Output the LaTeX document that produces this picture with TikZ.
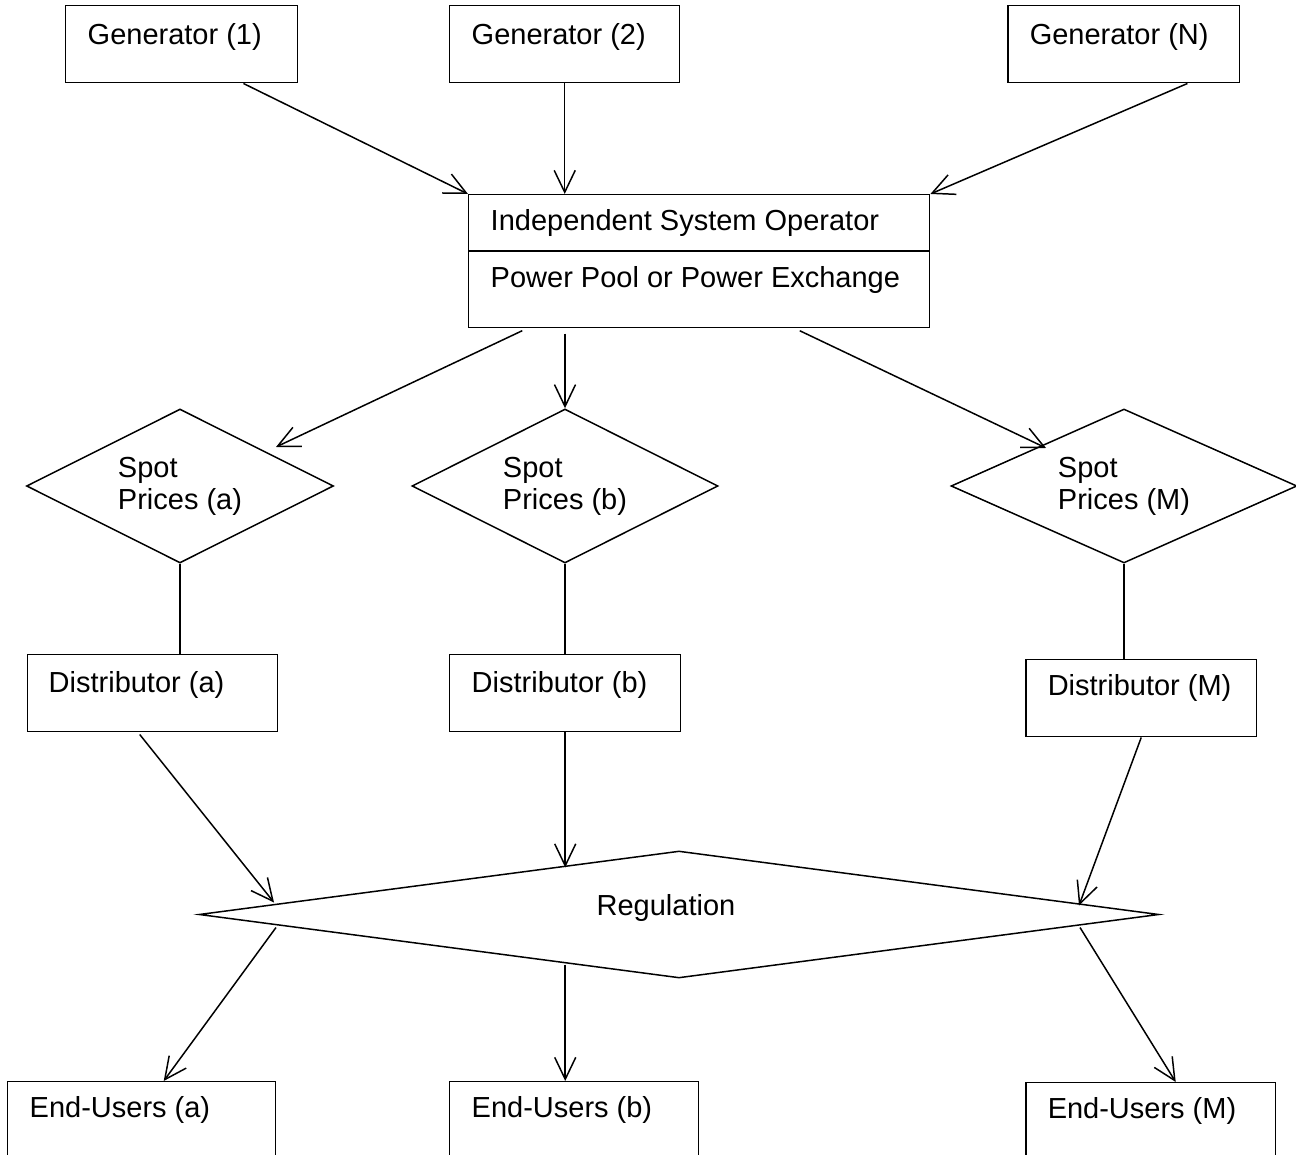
\documentclass[tikz,border=0pt]{standalone}
\usepackage{fontspec}
\setmainfont{Liberation Sans}
\usetikzlibrary{shapes.geometric, arrows.meta}

\tikzset{
  box/.style={draw, rectangle, anchor=north west, inner sep=0pt},
  boxtext/.style={anchor=base west, inner sep=0pt},
  spot/.style={draw, diamond, aspect=2, inner sep=0pt, minimum height=3.08cm, align=left},
  link/.style={-{Straight Barb[length=12.5pt, width=12pt]}}
}

\begin{document}
\begin{tikzpicture}[x=0.02cm, y=-0.02cm, line width=0.85pt, font=\fontsize{16.5}{18.1}\selectfont]

    \useasboundingbox (0,0) rectangle (1296,1155);
    \clip (0,0) rectangle (1296,1155);

    % Draw the generators
    \node[box, minimum width=4.64cm, minimum height=1.54cm] (gen1) at (65,5) {};
    \node[box, minimum width=4.60cm, minimum height=1.54cm] (gen2) at (449,5) {};
    \node[box, minimum width=4.64cm, minimum height=1.54cm] (genN) at (1007,5) {};
    \node[boxtext] (gen1txt) at ([shift={(22,40)}]gen1.north west) {Generator (1)};
    \node[boxtext] (gen2txt) at ([shift={(22,40)}]gen2.north west) {Generator (2)};
    \node[boxtext] (genNtxt) at ([shift={(22,40)}]genN.north west) {Generator (N)};

    % Draw the operator box with its divider
    \node[box, minimum width=9.22cm, minimum height=2.66cm] (iso) at (468,194) {};
    \draw ([shift={(0,57)}]iso.north west) -- ([shift={(0,57)}]iso.north east);
    \node[boxtext] (isotop) at ([shift={(22,37)}]iso.north west) {Independent System Operator};
    \node[boxtext] (isobot) at ([shift={(22,94)}]iso.north west) {Power Pool or Power Exchange};

    % Draw the spot price diamonds
    \node[spot, minimum width=6.14cm] (spa) at (180,486) {Spot\\Prices (a)};
    \node[spot, minimum width=6.12cm] (spb) at (565,486) {Spot\\Prices (b)};
    \node[spot, minimum width=6.92cm] (spM) at (1124,486) {Spot\\Prices (M)};

    % Draw the distributors
    \node[box, minimum width=5.00cm, minimum height=1.54cm] (dista) at (27,654) {};
    \node[box, minimum width=4.62cm, minimum height=1.54cm] (distb) at (449,654) {};
    \node[box, minimum width=4.62cm, minimum height=1.54cm] (distM) at (1025,659) {};
    \node[boxtext] (distatxt) at ([shift={(21,38)}]dista.north west) {Distributor (a)};
    \node[boxtext] (distbtxt) at ([shift={(22,38)}]distb.north west) {Distributor (b)};
    \node[boxtext] (distMtxt) at ([shift={(22,37)}]distM.north west) {Distributor (M)};

    % Draw the regulation diamond
    \node[draw, diamond, inner sep=0pt, minimum width=19.2cm, minimum height=2.54cm] (reg) at (679,914.5) {};
    \node[anchor=base, inner sep=0pt] (regtxt) at ([shift={(-13,1)}]reg.center) {Regulation};
    \coordinate (regtop) at ([shift={(0,-47)}]reg.center);
    \coordinate (regbot) at ([shift={(0,50)}]reg.center);

    % Draw the end-users (cut off by the page)
    \node[box, minimum width=5.36cm, minimum height=2cm] (eua) at (7,1081) {};
    \node[box, minimum width=4.98cm, minimum height=2cm] (eub) at (449,1081) {};
    \node[box, minimum width=5.00cm, minimum height=2cm] (euM) at (1025,1082) {};
    \node[boxtext] (euatxt) at ([shift={(22,36)}]eua.north west) {End-Users (a)};
    \node[boxtext] (eubtxt) at ([shift={(22,36)}]eub.north west) {End-Users (b)};
    \node[boxtext] (euMtxt) at ([shift={(22,36)}]euM.north west) {End-Users (M)};

    % Generators feed the operator
    \draw[link] ([shift={(-55,0)}]gen1.south east) -- (iso.north west);
    \draw[link] (gen2.south) -- (gen2.south |- iso.north);
    \draw[link] ([shift={(-53,0)}]genN.south east) -- (iso.north east);

    % Operator sets the spot prices
    \draw[link, shorten <=3pt] ([shift={(59,0)}]iso.south west) -- ([shift={(96,-39)}]spa.center);
    \draw[link, shorten <=3pt] (spb.north |- iso.south) -- (spb.north);
    \draw[link, shorten <=3pt] ([shift={(327,0)}]iso.south west) -- ([shift={(-78,-38)}]spM.center);

    % Spot prices to distributors
    \draw (spa.south) -- (spa.south |- dista.north);
    \draw (spb.south) -- (spb.south |- distb.north);
    \draw (spM.south) -- (spM.south |- distM.north);

    % Distributors to regulation
    \draw[link] ([shift={(-13,2)}]dista.south) -- ([shift={(-405,-12)}]reg.center);
    \draw[link] (distb.south) -- (distb.south |- regtop);
    \draw[link] (distM.south) -- ([shift={(400,-9)}]reg.center);

    % Regulation to end-users
    \draw[link] ([shift={(-403,13)}]reg.center) -- ([shift={(22,0)}]eua.north);
    \draw[link] (distb.south |- regbot) -- (distb.south |- eub.north);
    \draw[link] ([shift={(401,13)}]reg.center) -- ([shift={(25,0)}]euM.north);

\end{tikzpicture}
\end{document}
